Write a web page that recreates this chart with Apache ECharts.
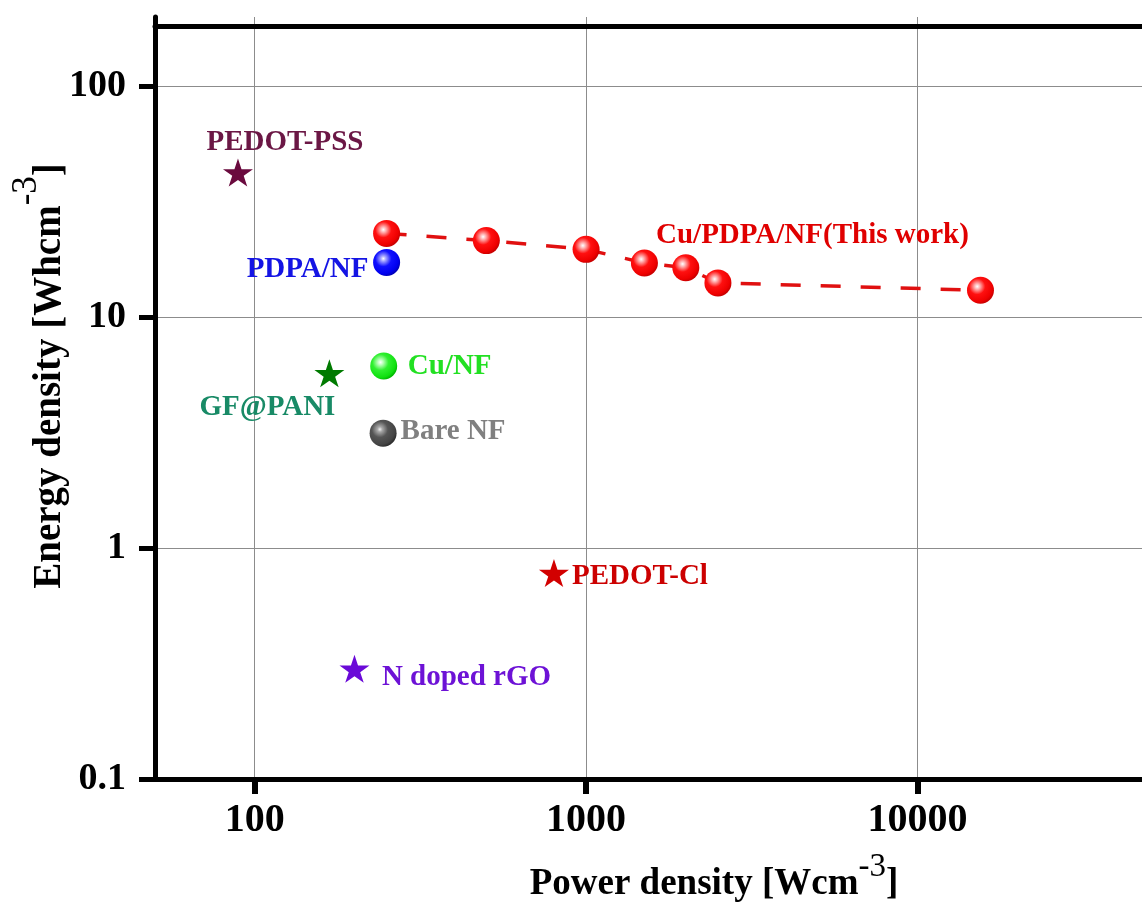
<!DOCTYPE html>
<html><head><meta charset="utf-8">
<script src="https://cdn.jsdelivr.net/npm/echarts@6/dist/echarts.min.js"></script>
<style>html,body{margin:0;padding:0;background:#fff}#c{width:1142px;height:903px}</style>
</head><body><div id="c"></div>
<script>
// ---- data ----
const xTicks = [100, 1000, 10000];
const yTicks = [0.1, 1, 10, 100];
const thisWorkName = 'Cu/PDPA/NF(This work)';
const thisWorkPower = [250, 500, 1000, 1500, 2000, 2500, 15500];
const thisWorkEnergy = [23.1, 21.5, 19.7, 17.2, 16.4, 14.1, 13.1];
const refNames = ['PEDOT-PSS', 'PDPA/NF', 'Cu/NF', 'GF@PANI', 'Bare NF', 'PEDOT-Cl', 'N doped rGO'];
const refPower = [89, 250, 245, 168, 244, 800, 200];
const refEnergy = [42.4, 17.3, 6.15, 5.72, 3.15, 0.78, 0.30];

// ---- styles ----
const FONT = '"Liberation Serif","Times New Roman",serif';
const STAR = 'path://M50 0L61.23 34.55L97.55 34.55L68.17 55.9L79.39 90.45L50 69.1L20.61 90.45L31.83 55.9L2.45 34.55L38.77 34.55Z';
function sphere(c) {
  const offs = [0, 0.14, 0.45, 0.85, 1];
  return { type: 'radial', x: 0.38, y: 0.36, r: 0.66, colorStops: c.map((col, i) => ({ offset: offs[i], color: col })) };
}
const RED = sphere(['#ffffff', '#ffb8b8', '#ff1010', '#ee0000', '#c80000']);
const BLUE = sphere(['#ffffff', '#a8a8ff', '#1010ff', '#0000ee', '#0000b8']);
const GREEN = sphere(['#ffffff', '#c0ffc0', '#30f030', '#10e010', '#00b800']);
const GRAY = sphere(['#f0f0f0', '#a8a8a8', '#555555', '#444444', '#2e2e2e']);
const SPH = 27;
const styles = {
  'PEDOT-PSS':   { symbol: STAR, size: [30, 28], color: '#6a0a3e', text: '#6b1745', off: [47, -30] },
  'PDPA/NF':     { symbol: 'circle', size: SPH, color: BLUE, text: '#1414e4', off: [-79, 7] },
  'Cu/NF':       { symbol: 'circle', size: SPH, color: GREEN, text: '#22e022', off: [66, 0] },
  'GF@PANI':     { symbol: STAR, size: [30, 28], color: '#007a00', text: '#188a66', off: [-62, 34] },
  'Bare NF':     { symbol: 'circle', size: SPH, color: GRAY, text: '#808080', off: [70, -2] },
  'PEDOT-Cl':    { symbol: STAR, size: [30, 28], color: '#d20000', text: '#cc0000', off: [86, 3] },
  'N doped rGO': { symbol: STAR, size: [30, 28], color: '#6a0ad8', text: '#6d12d6', off: [112, 9] }
};
const labelBase = { show: true, position: 'inside', fontFamily: FONT, fontWeight: 'bold', fontSize: 29 };

const series = [];
series.push({
  name: thisWorkName, type: 'line', symbol: 'circle', symbolSize: SPH, showAllSymbol: true,
  itemStyle: { color: RED },
  lineStyle: { color: '#e01010', width: 3.5, type: [20, 20] },
  data: thisWorkPower.map((x, i) => {
    const d = { value: [x, thisWorkEnergy[i]] };
    if (i === 3) d.label = Object.assign({}, labelBase, { formatter: thisWorkName, color: '#e00000', offset: [168, -27] });
    return d;
  }),
  z: 3
});
refNames.forEach((n, i) => {
  const s = styles[n];
  series.push({
    name: n, type: 'scatter', symbol: s.symbol, symbolSize: s.size,
    itemStyle: { color: s.color, opacity: 1 },
    label: Object.assign({}, labelBase, { formatter: n, color: s.text, offset: s.off }),
    data: [[refPower[i], refEnergy[i]]],
    z: 4
  });
});

const chart = echarts.init(document.getElementById('c'), null, { renderer: 'canvas' });
chart.setOption({
  animation: false,
  backgroundColor: '#ffffff',
  grid: { left: 155, top: 17, width: 994, height: 762, containLabel: false, outerBoundsMode: 'none' },
  xAxis: [{
    type: 'log', logBase: 10, min: 50, max: 50000, position: 'bottom',
    name: '{a|Power density [Wcm}{s|-3}{a|]}', nameLocation: 'middle', nameGap: 84, nameMoveOverlap: false,
    nameTextStyle: {
      padding: [0, 0, 0, 124],
      rich: {
        a: { fontFamily: FONT, fontWeight: 'bold', fontSize: 37, lineHeight: 42, color: '#000' },
        s: { fontFamily: FONT, fontWeight: 'normal', fontSize: 33, lineHeight: 32, color: '#000', padding: [0, 0, 34, 0] }
      }
    },
    axisLine: { show: true, lineStyle: { color: '#000', width: 5 } },
    axisTick: { show: true, inside: false, length: 15, lineStyle: { color: '#000', width: 6 }, customValues: xTicks },
    axisLabel: { show: true, margin: 22, fontFamily: FONT, fontWeight: 'bold', fontSize: 40, color: '#000', customValues: xTicks,
      formatter: v => String(Math.round(v)) },
    splitLine: { show: true, lineStyle: { color: '#8c8c8c', width: 1 } },
    minorTick: { show: false }, minorSplitLine: { show: false }
  }, {
    type: 'log', logBase: 10, min: 50, max: 50000, position: 'top', offset: -9,
    axisLine: { show: true, lineStyle: { color: '#000', width: 5 } },
    axisTick: { show: false }, axisLabel: { show: false }, splitLine: { show: false }
  }],
  yAxis: {
    type: 'log', logBase: 10, min: 0.1, max: 200, position: 'left',
    name: '{a|Energy density [Whcm}{s|-3}{a|]}', nameLocation: 'middle', nameGap: 83, nameMoveOverlap: false,
    nameTextStyle: {
      padding: [0, 0, 0, 44],
      rich: {
        a: { fontFamily: FONT, fontWeight: 'bold', fontSize: 39, lineHeight: 44, color: '#000' },
        s: { fontFamily: FONT, fontWeight: 'normal', fontSize: 35, lineHeight: 34, color: '#000', padding: [0, 0, 46, 0] }
      }
    },
    axisLine: { show: true, lineStyle: { color: '#000', width: 5 } },
    axisTick: { show: true, inside: false, length: 16, lineStyle: { color: '#000', width: 5 }, customValues: yTicks },
    axisLabel: { show: true, margin: 29, fontFamily: FONT, fontWeight: 'bold', fontSize: 38, color: '#000', customValues: yTicks,
      formatter: v => (v < 1 ? String(Math.round(v * 10) / 10) : String(Math.round(v))) },
    splitLine: { show: true, lineStyle: { color: '#8c8c8c', width: 1 } },
    minorTick: { show: false }, minorSplitLine: { show: false }
  },
  series: series
});
</script>
</body></html>
